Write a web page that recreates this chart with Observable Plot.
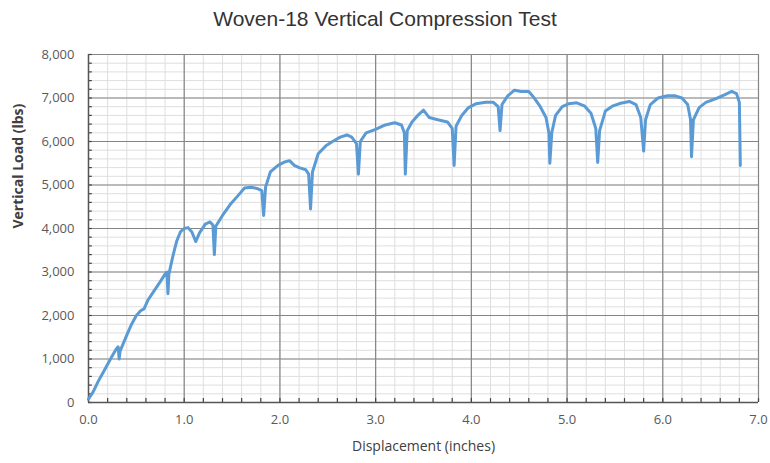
<!DOCTYPE html>
<html>
<head>
<meta charset="utf-8">
<script src="https://cdn.jsdelivr.net/npm/d3@7"></script>
<script src="https://cdn.jsdelivr.net/npm/@observablehq/plot@0.6"></script>
<style>
  html, body { margin: 0; padding: 0; background: #fff; }
  #title { height: 40px; line-height: 38px; text-align: center; font-family: "Liberation Sans", Arial, sans-serif; font-size: 21px; color: #333; width: 770px; }
</style>
</head>
<body>
<div id="title">Woven-18 Vertical Compression Test</div>
<div id="chart"></div>
<script>
const title = "Woven-18 Vertical Compression Test";
const xLabel = "Displacement (inches)";
const yLabel = "Vertical Load (lbs)";
const xTicks = [0, 1, 2, 3, 4, 5, 6, 7];
const yTicks = [0, 1000, 2000, 3000, 4000, 5000, 6000, 7000, 8000];
const xMinor = d3.range(0, 7.001, 0.2);
const yMinor = d3.range(0, 8001, 200);

const displacement = [
  0.00, 0.05, 0.10, 0.15, 0.20, 0.25, 0.29, 0.31, 0.32, 0.33,
  0.40, 0.45, 0.50, 0.55, 0.58, 0.62, 0.68, 0.75, 0.80, 0.82, 0.83, 0.84,
  0.88, 0.92, 0.96, 1.00, 1.04, 1.08, 1.12, 1.16, 1.22, 1.27, 1.30, 1.315, 1.33,
  1.40, 1.48, 1.56, 1.63, 1.70, 1.76, 1.81, 1.83, 1.85,
  1.90, 1.98, 2.05, 2.10, 2.15, 2.20, 2.27, 2.30, 2.32, 2.34,
  2.40, 2.48, 2.55, 2.63, 2.70, 2.75, 2.80, 2.82, 2.84,
  2.90, 3.00, 3.10, 3.20, 3.27, 3.30, 3.31, 3.33,
  3.38, 3.44, 3.50, 3.56, 3.65, 3.75, 3.80, 3.82, 3.84,
  3.90, 3.97, 4.05, 4.15, 4.23, 4.28, 4.30, 4.32,
  4.38, 4.45, 4.52, 4.60, 4.65, 4.72, 4.78, 4.81, 4.82, 4.84,
  4.88, 4.95, 5.02, 5.10, 5.18, 5.25, 5.30, 5.32, 5.34,
  5.40, 5.48, 5.56, 5.65, 5.72, 5.77, 5.80, 5.82,
  5.87, 5.95, 6.05, 6.13, 6.20, 6.26, 6.29, 6.30, 6.32,
  6.38, 6.45, 6.55, 6.65, 6.72, 6.77, 6.80, 6.81
];
const load = [
  80, 250, 480, 680, 880, 1080, 1230, 1280, 1000, 1180,
  1550, 1800, 2000, 2120, 2150, 2350, 2550, 2780, 2950, 3000, 2500, 2950,
  3350, 3700, 3920, 4000, 4020, 3920, 3700, 3900, 4100, 4150, 4080, 3400, 4050,
  4300, 4550, 4750, 4930, 4950, 4920, 4870, 4300, 4950,
  5300, 5450, 5530, 5560, 5450, 5400, 5350, 5250, 4450, 5300,
  5720, 5900, 6000, 6100, 6150, 6100, 5950, 5250, 6000,
  6200, 6280, 6380, 6430, 6380, 6200, 5250, 6250,
  6450, 6600, 6720, 6550, 6500, 6450, 6300, 5450, 6350,
  6600, 6780, 6870, 6900, 6900, 6800, 6250, 6850,
  7050, 7180, 7150, 7150, 7020, 6800, 6550, 6200, 5500, 6200,
  6600, 6800, 6870, 6890, 6820, 6650, 6300, 5520, 6250,
  6700, 6820, 6880, 6920, 6850, 6550, 5780, 6500,
  6850, 7000, 7050, 7050, 7000, 6850, 6500, 5650, 6500,
  6780, 6900, 6980, 7080, 7150, 7100, 6900, 5450
];

const data = displacement.map((d, i) => ({x: d, y: load[i]}));
const font = "'Open Sans', 'Noto Sans', sans-serif";

const chart = Plot.plot({
  width: 770,
  height: 423,
  marginTop: 14,
  marginBottom: 61,
  marginLeft: 88,
  marginRight: 12,
  style: {fontFamily: font, background: "#fff"},
  x: {domain: [0, 7]},
  y: {domain: [0, 8000]},
  marks: [
    Plot.ruleX(xMinor, {stroke: "#dedede", strokeWidth: 1}),
    Plot.ruleY(yMinor, {stroke: "#dedede", strokeWidth: 1}),
    Plot.ruleX(xTicks, {stroke: "#858585", strokeWidth: 1.2}),
    Plot.ruleY(yTicks, {stroke: "#858585", strokeWidth: 1.2}),
    Plot.ruleX(xMinor, {y1: 0, y2: 90, stroke: "#444", strokeWidth: 1.2}),
    Plot.ruleY(yMinor, {x1: 0, x2: 0.04, stroke: "#444", strokeWidth: 1.2}),
    Plot.ruleX([0], {stroke: "#555", strokeWidth: 1.4}),
    Plot.ruleY([0], {stroke: "#555", strokeWidth: 1.4}),
    Plot.line(data, {x: "x", y: "y", stroke: "#5b9bd5", strokeWidth: 3, strokeLinejoin: "round"}),
    Plot.axisX(xTicks, {tickSize: 0, tickPadding: 12, tickFormat: d3.format(".1f"), fontSize: 13, color: "#595959", label: null}),
    Plot.axisY(yTicks, {tickSize: 0, tickPadding: 14, tickFormat: d3.format(","), fontSize: 13, color: "#595959", label: null}),
    Plot.text([xLabel], {frameAnchor: "bottom", text: d => d, dy: 48, fontSize: 14, fill: "#404040"}),
    Plot.text([yLabel], {frameAnchor: "left", text: d => d, dx: -70, rotate: -90, fontSize: 14, fontWeight: "bold", fill: "#404040"})
  ]
});
document.getElementById("chart").appendChild(chart);
</script>
</body>
</html>
